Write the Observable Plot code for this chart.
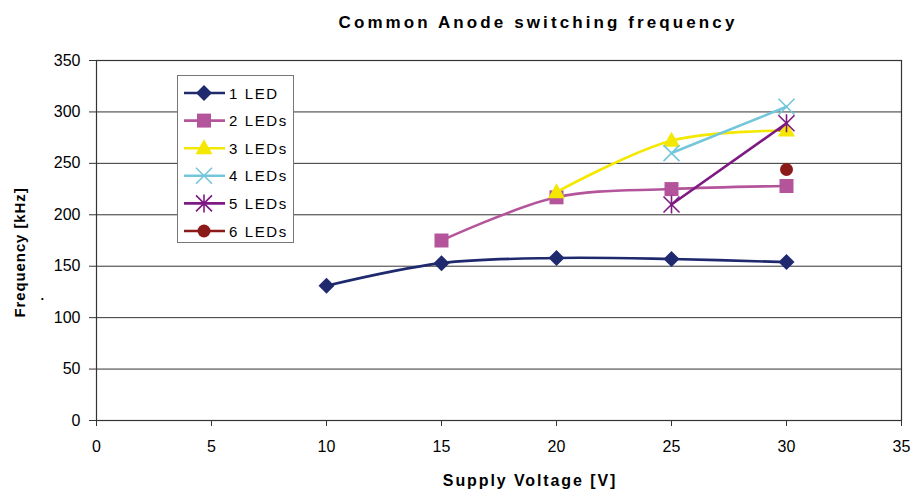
<!DOCTYPE html>
<html><head><meta charset="utf-8">
<script src="https://cdn.jsdelivr.net/npm/d3@7"></script>
<script src="https://cdn.jsdelivr.net/npm/@observablehq/plot@0.6"></script>
<style>
body{margin:0;background:#fff;}
#wrap{position:relative;width:912px;height:493px;font-family:"Liberation Sans",Arial,sans-serif;}
#title{position:absolute;left:140px;width:796px;top:13px;text-align:center;font-weight:bold;font-size:17px;letter-spacing:3.1px;color:#000;}
#legend{position:absolute;left:177px;top:75px;}
</style></head><body><div id="wrap"><div id="title">Common Anode switching frequency</div></div>
<script>
const titleText = "Common Anode switching frequency";
const xLabel = "Supply Voltage [V]";
const yLabel = "Frequency [kHz]";
const xTicks = [0,5,10,15,20,25,30,35];
const yTicks = [0,50,100,150,200,250,300,350];

const seriesNames = ["1 LED","2 LEDs","3 LEDs","4 LEDs","5 LEDs","6 LEDs"];
const seriesColors = ["#1F2A6E","#B4559C","#F5E800","#74C7DA","#7E1A83","#8B1A1A"];

const s1x = [10,15,20,25,30], s1y = [131,153,158,157,154];
const s2x = [15,20,25,30],    s2y = [175,217,225,228];
const s3x = [20,25,30],       s3y = [222,272,282];
const s4x = [25,30],          s4y = [260,305];
const s5x = [25,30],          s5y = [210,289];
const s6x = [30],             s6y = [244];

const xs = [s1x,s2x,s3x,s4x,s5x,s6x];
const ys = [s1y,s2y,s3y,s4y,s5y,s6y];

const symDiamond = {draw(c){c.moveTo(0,-8);c.lineTo(8,0);c.lineTo(0,8);c.lineTo(-8,0);c.closePath();}};
const symSquare = {draw(c){c.moveTo(-7,-7);c.lineTo(7,-7);c.lineTo(7,7);c.lineTo(-7,7);c.closePath();}};
const symTriangle = {draw(c){c.moveTo(0,-9);c.lineTo(8.5,6);c.lineTo(-8.5,6);c.closePath();}};
const symTimes = {draw(c){c.moveTo(-8,-8);c.lineTo(8,8);c.moveTo(-8,8);c.lineTo(8,-8);}};
const symStar = {draw(c){c.moveTo(-8,-8);c.lineTo(8,8);c.moveTo(-8,8);c.lineTo(8,-8);c.moveTo(0,-9);c.lineTo(0,9);}};
const symCircle = {draw(c){c.moveTo(6.5,0);c.arc(0,0,6.5,0,2*Math.PI);c.closePath();}};
const symbols = [symDiamond,symSquare,symTriangle,symTimes,symStar,symCircle];
const filled = [true,true,true,false,false,true];

const rows = [];
seriesNames.forEach((s,i)=>xs[i].forEach((x,j)=>rows.push({series:s,i,x,y:ys[i][j]})));

const marks = [
  Plot.ruleY(yTicks.filter(d=>d>0 && d<350),{stroke:"#333",strokeWidth:1}),
  Plot.frame({stroke:"#333",strokeWidth:1.2}),
  Plot.axisX({ticks:xTicks,tickSize:6,tickPadding:14,fontSize:16,label:null,stroke:"#333"}),
  Plot.axisY({ticks:yTicks,tickSize:7,tickPadding:9,fontSize:16,label:null,stroke:"#333"}),
  Plot.text([xLabel],{frameAnchor:"bottom",dx:31,dy:65,text:d=>d,fontWeight:"bold",fontSize:16}),
  Plot.text([yLabel],{frameAnchor:"left",dx:-76,dy:12,rotate:-90,textAnchor:"middle",text:d=>d,fontWeight:"bold",fontSize:15}),
  Plot.text(["."],{frameAnchor:"left",dx:-56,dy:55,text:d=>d,fontSize:13,fontWeight:"bold"})
];
seriesNames.forEach((s,i)=>{
  const d = rows.filter(r=>r.i===i);
  if (d.length>1) marks.push(Plot.line(d,{x:"x",y:"y",stroke:seriesColors[i],strokeWidth:2.6,curve:i===4?"linear":"catmull-rom"}));
  marks.push(Plot.dot(d,{x:"x",y:"y",r:6,symbol:()=>symbols[i],
    fill:filled[i]?seriesColors[i]:"none",stroke:seriesColors[i],strokeWidth:filled[i]?0:1.6}));
});

const chart = Plot.plot({
  width:912,height:493,
  marginLeft:96,marginRight:11,marginTop:60,marginBottom:73,
  style:{fontFamily:"'Liberation Sans', Arial, sans-serif",fontSize:"16px",color:"#000",background:"#fff"},
  x:{domain:[0,35]},
  y:{domain:[0,350]},
  symbol:{type:"identity"},
  marks
});
d3.select(chart).selectAll("text").filter(function(){return this.textContent===xLabel;}).style("letter-spacing","1.9px");
d3.select(chart).selectAll("text").filter(function(){return this.textContent===yLabel;}).style("letter-spacing","0.9px");
document.getElementById("wrap").appendChild(chart);

// legend
const L = d3.create("svg").attr("width",118).attr("height",169)
  .style("font-family","'Liberation Sans', Arial, sans-serif");
L.append("rect").attr("x",0.5).attr("y",0.5).attr("width",116).attr("height",167)
  .attr("fill","#fff").attr("stroke","#777").attr("stroke-width",1);
seriesNames.forEach((s,i)=>{
  const cy = 18 + i*27.6;
  L.append("line").attr("x1",7).attr("x2",48).attr("y1",cy).attr("y2",cy)
    .attr("stroke",seriesColors[i]).attr("stroke-width",2.6);
  const p = d3.path(); symbols[i].draw(p);
  L.append("path").attr("d",p.toString()).attr("transform",`translate(27,${cy})`)
    .attr("fill",filled[i]?seriesColors[i]:"none").attr("stroke",seriesColors[i])
    .attr("stroke-width",filled[i]?0:1.6);
  L.append("text").attr("x",52).attr("y",cy+5.5).attr("font-size",15)
    .attr("letter-spacing","1.6px").text(s);
});
const lg = L.node(); lg.id="legend";
document.getElementById("wrap").appendChild(lg);
</script></body></html>
